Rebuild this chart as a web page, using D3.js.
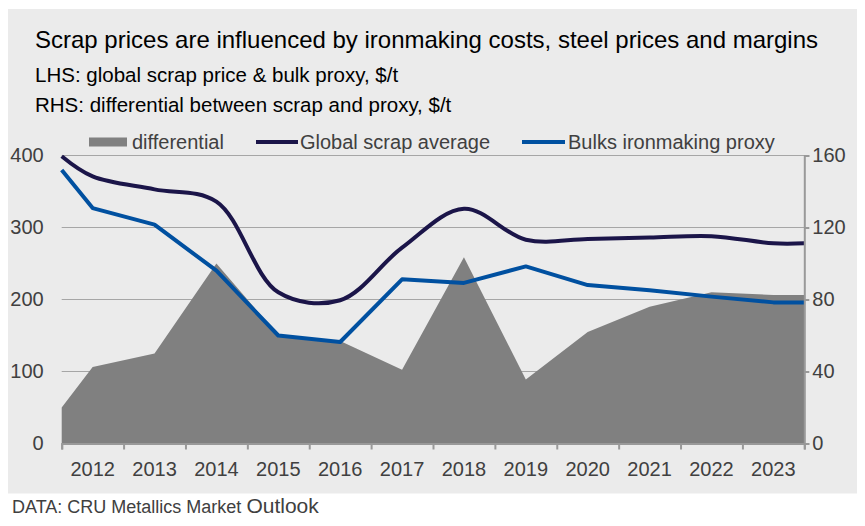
<!DOCTYPE html>
<html>
<head>
<meta charset="utf-8">
<script src="https://cdn.jsdelivr.net/npm/d3@7"></script>
<style>
    body { margin: 0; background: #ffffff; }
    svg text { font-family: Arial, "Liberation Sans", sans-serif; }
</style>
</head>
<body>
<div id="chart"></div>
<script>
// x positions in years: half-year at both ends is where the series start/stop on the axis edge
var years = [2011.5, 2012, 2013, 2014, 2015, 2016, 2017, 2018, 2019, 2020, 2021, 2022, 2023, 2023.5];
var yearLabels = [2012, 2013, 2014, 2015, 2016, 2017, 2018, 2019, 2020, 2021, 2022, 2023];

// LHS series, $/t
var scrapAvg = [399, 371, 353, 336, 210, 199, 272, 326, 283, 284, 286, 288, 278, 278];
var bulksProxy = [380, 327, 304, 240, 150, 141, 228, 223, 246, 220, 213, 204, 196, 196];
// RHS series, $/t
var differential = [20, 42.5, 50, 100, 60, 57, 41, 103.5, 35.5, 62, 76, 84, 82.5, 82.5];

var leftTicks = [0, 100, 200, 300, 400];
var rightTicks = [0, 40, 80, 120, 160];

var W = 865, H = 526;
var margin = {left: 61.7, right: 60.7, top: 155.5, bottom: 82.5};

var svg = d3.select("#chart").append("svg")
    .attr("width", W)
    .attr("height", H);

// grey panel
svg.append("rect")
    .attr("x", 8).attr("y", 9)
    .attr("width", 849).attr("height", 484.5)
    .attr("fill", "#ebebeb");

var x = d3.scaleLinear()
    .domain([2011.5, 2023.5])
    .range([margin.left, W - margin.right]);
var yL = d3.scaleLinear()
    .domain([0, 400])
    .range([H - margin.bottom, margin.top]);
var yR = d3.scaleLinear()
    .domain([0, 160])
    .range([H - margin.bottom, margin.top]);

//gridlines
svg.append("g")
    .selectAll("line")
    .data(leftTicks.slice(1))
    .enter().append("line")
    .attr("x1", x(2011.5)).attr("x2", x(2023.5))
    .attr("y1", function(d){ return yL(d); })
    .attr("y2", function(d){ return yL(d); })
    .attr("stroke", "#a6a6a6")
    .attr("stroke-width", 1);

//area for differential on right scale
var area = d3.area()
    .x(function(d, i){ return x(years[i]); })
    .y0(yR(0))
    .y1(function(d){ return yR(d); });
svg.append("path")
    .datum(differential)
    .attr("d", area)
    .attr("fill", "#808080");

//lines
var smooth = d3.line()
    .x(function(d, i){ return x(years[i]); })
    .y(function(d){ return yL(d); })
    .curve(d3.curveCatmullRom.alpha(0.5));
var straight = d3.line()
    .x(function(d, i){ return x(years[i]); })
    .y(function(d){ return yL(d); });

svg.append("path")
    .datum(bulksProxy)
    .attr("d", straight)
    .attr("fill", "none")
    .attr("stroke", "#0050a0")
    .attr("stroke-width", 4)
    .attr("stroke-linejoin", "round");

svg.append("path")
    .datum(scrapAvg)
    .attr("d", smooth)
    .attr("fill", "none")
    .attr("stroke", "#1b1549")
    .attr("stroke-width", 4);

//x axis with ticks at year boundaries, labels in the middle
var xAxis = d3.axisBottom(x)
    .tickValues(d3.range(2011.5, 2024, 1))
    .tickSize(6)
    .tickFormat("");
var gx = svg.append("g")
    .attr("transform", "translate(0," + yL(0) + ")")
    .call(xAxis);
gx.select(".domain").attr("stroke", "#999999").attr("stroke-width", 2);
gx.selectAll(".tick line").attr("stroke", "#999999").attr("stroke-width", 2);

svg.append("g").selectAll("text")
    .data(yearLabels)
    .enter().append("text")
    .attr("x", function(d){ return x(d); })
    .attr("y", yL(0) + 32)
    .attr("text-anchor", "middle")
    .attr("font-size", 20)
    .attr("fill", "#404040")
    .text(function(d){ return d; });

//left axis: labels only
var yAxisL = d3.axisLeft(yL).tickValues(leftTicks).tickSize(0).tickPadding(18);
var gl = svg.append("g")
    .attr("transform", "translate(" + margin.left + ",0)")
    .call(yAxisL);
gl.select(".domain").remove();
gl.selectAll("text").attr("font-size", 20).attr("fill", "#404040").attr("font-family", null);

//right axis with line and ticks
var yAxisR = d3.axisRight(yR).tickValues(rightTicks).tickSize(5).tickPadding(3);
var gr = svg.append("g")
    .attr("transform", "translate(" + (W - margin.right) + ",0)")
    .call(yAxisR);
gr.select(".domain").attr("stroke", "#999999").attr("stroke-width", 2);
gr.selectAll(".tick line").attr("stroke", "#999999").attr("stroke-width", 2);
gr.selectAll("text").attr("font-size", 20).attr("fill", "#404040").attr("font-family", null);

//titles
svg.append("text")
    .attr("x", 35).attr("y", 48)
    .attr("font-size", 24)
    .attr("fill", "#000000")
    .text("Scrap prices are influenced by ironmaking costs, steel prices and margins");
svg.append("text")
    .attr("x", 35).attr("y", 82)
    .attr("font-size", 20.5)
    .attr("fill", "#000000")
    .text("LHS: global scrap price & bulk proxy, $/t");
svg.append("text")
    .attr("x", 35).attr("y", 112)
    .attr("font-size", 20.5)
    .attr("fill", "#000000")
    .text("RHS: differential between scrap and proxy, $/t");

//legend
var legendY = 142;
svg.append("rect")
    .attr("x", 89).attr("y", legendY - 4.5)
    .attr("width", 38).attr("height", 9)
    .attr("fill", "#808080");
svg.append("line")
    .attr("x1", 256).attr("x2", 298)
    .attr("y1", legendY).attr("y2", legendY)
    .attr("stroke", "#1b1549").attr("stroke-width", 4);
svg.append("line")
    .attr("x1", 522).attr("x2", 565)
    .attr("y1", legendY).attr("y2", legendY)
    .attr("stroke", "#0050a0").attr("stroke-width", 4);

var legendText = [
    {x: 132, t: "differential"},
    {x: 300, t: "Global scrap average"},
    {x: 568, t: "Bulks ironmaking proxy"}
];
svg.append("g").selectAll("text")
    .data(legendText)
    .enter().append("text")
    .attr("x", function(d){ return d.x; })
    .attr("y", legendY + 7)
    .attr("font-size", 20)
    .attr("fill", "#404040")
    .text(function(d){ return d.t; });

//source
var src = svg.append("text")
    .attr("x", 12).attr("y", 513)
    .attr("fill", "#404040");
src.append("tspan").attr("font-size", 18).text("DATA: CRU Metallics Market ");
src.append("tspan").attr("font-size", 21).text("Outlook");
</script>
</body>
</html>
